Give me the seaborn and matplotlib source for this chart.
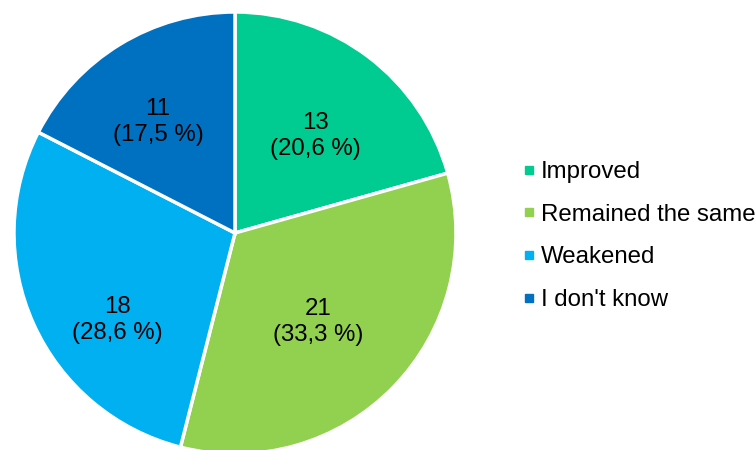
import matplotlib
matplotlib.use("Agg")
import matplotlib.pyplot as plt
from matplotlib.lines import Line2D
import seaborn as sns

categories = ["Improved", "Remained the same", "Weakened", "I don't know"]
values = [13, 21, 18, 11]
percent_labels = ["20,6 %", "33,3 %", "28,6 %", "17,5 %"]
colors = ["#00CC92", "#92D050", "#00B0F0", "#0070C0"]

# label placement (fraction of radius), as in the reference's best-fit layout
label_xy = [(0.362, 0.439), (0.376, -0.403), (-0.534, -0.394), (-0.348, 0.502)]

sns.set_theme(style="white")
plt.rcParams['font.family'] = ['Liberation Sans', 'DejaVu Sans']

palette = sns.color_palette(colors)

fig = plt.figure(figsize=(7.55, 4.5), dpi=100)
W, H = 755, 450
cx, cy, r = 235, 233, 221
ax = fig.add_axes([(cx - r) / W, (H - cy - r) / H, 2 * r / W, 2 * r / H])

labels_txt = [f"{v}\n({p})" for v, p in zip(values, percent_labels)]
wedges, _ = ax.pie(values, colors=palette, startangle=90, counterclock=False,
                   radius=1, wedgeprops=dict(edgecolor="white", linewidth=2.5))
for (x, y), t in zip(label_xy, labels_txt):
    ax.text(x, y, t, ha="center", va="center",
            fontsize=17.3, color="black", linespacing=1.25)
ax.set_xlim(-1, 1)
ax.set_ylim(-1, 1)
ax.set_aspect("equal")
ax.axis("off")

handles = [Line2D([0], [0], marker="s", linestyle="none", markersize=5.8,
                  markerfacecolor=c, markeredgecolor=c) for c in palette]
fig.legend(handles, categories, loc="center left", bbox_to_anchor=(522 / W, 1 - 236 / H),
           frameon=False, fontsize=17.3, handlelength=0.6, handletextpad=0.2,
           labelspacing=0.86, borderaxespad=0, borderpad=0, labelcolor="black")

fig.savefig("out.png", dpi=100)
